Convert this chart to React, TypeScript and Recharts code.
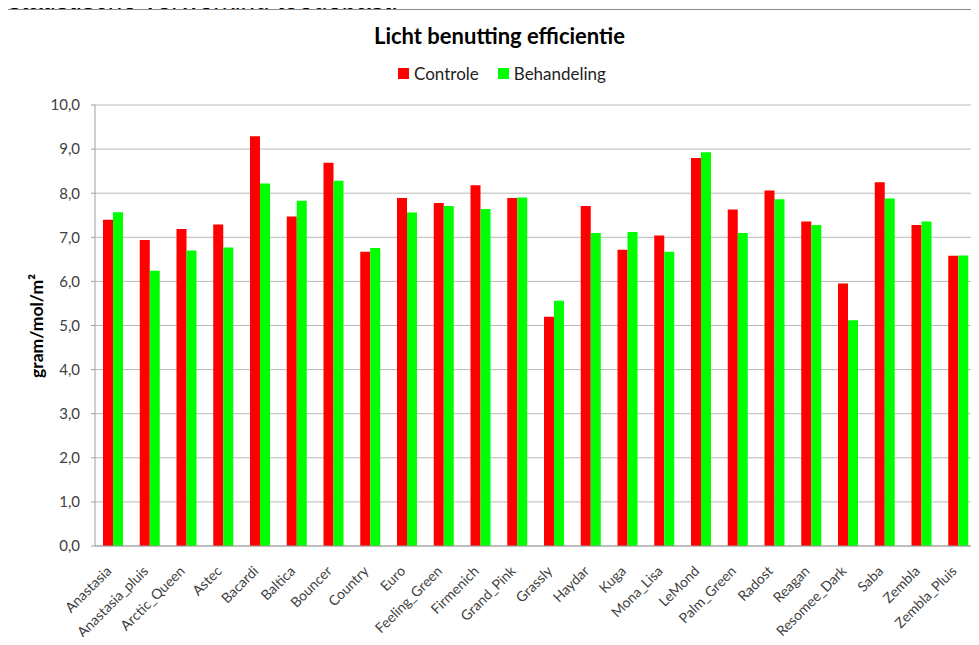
import { Bar, BarChart, CartesianGrid, XAxis, YAxis } from "recharts";

const categories = [
  "Anastasia", "Anastasia_pluis", "Arctic_Queen", "Astec", "Bacardi", "Baltica",
  "Bouncer", "Country", "Euro", "Feeling_Green", "Firmenich", "Grand_Pink",
  "Grassly", "Haydar", "Kuga", "Mona_Lisa", "LeMond", "Palm_Green",
  "Radost", "Reagan", "Resomee_Dark", "Saba", "Zembla", "Zembla_Pluis",
];
const controle = [
  7.4, 6.94, 7.19, 7.29, 9.29, 7.47, 8.69, 6.67, 7.89, 7.78, 8.18, 7.89,
  5.2, 7.71, 6.72, 7.04, 8.8, 7.63, 8.06, 7.36, 5.95, 8.25, 7.28, 6.58,
];
const behandeling = [
  7.57, 6.24, 6.7, 6.77, 8.22, 7.83, 8.28, 6.76, 7.56, 7.71, 7.64, 7.9,
  5.56, 7.1, 7.12, 6.67, 8.93, 7.1, 7.86, 7.28, 5.12, 7.88, 7.36, 6.59,
];
const yTicks = [0, 1, 2, 3, 4, 5, 6, 7, 8, 9, 10];

const data = categories.map((name, i) => ({
  name,
  controle: controle[i],
  behandeling: behandeling[i],
}));

const FONT = "Lato, 'Open Sans', sans-serif";
const RED = "#ff0000";
const GREEN = "#00ff00";

function XTick(props: any) {
  const { x, y, payload } = props;
  const ax = x - 1;
  const ay = y + 18;
  return (
    <text
      x={ax}
      y={ay}
      transform={`rotate(-45 ${ax} ${ay})`}
      textAnchor="end"
      fontSize={14}
      fontFamily={FONT}
      fill="#404040"
    >
      {payload.value}
    </text>
  );
}

function YLabel() {
  return (
    <text
      x={43}
      y={326}
      transform="rotate(-90 43 326)"
      textAnchor="middle"
      fontSize={17.5}
      fontWeight="bold"
      fontFamily={FONT}
      fill="#000"
    >
      gram/mol/m²
    </text>
  );
}

export default function App() {
  return (
    <div
      style={{
        position: "relative",
        width: 979,
        height: 645,
        margin: -8,
        overflow: "hidden",
        background: "#fff",
      }}
    >
      <div
        style={{
          position: "absolute",
          left: 8,
          top: -13,
          fontFamily: "'Liberation Sans', Arial, sans-serif",
          fontSize: 26,
          lineHeight: "26px",
          whiteSpace: "nowrap",
        }}
      >
        statistische verwerking toegepast.
      </div>
      <div
        style={{
          position: "absolute",
          left: 7,
          top: 9,
          width: 1000,
          height: 700,
          border: "1px solid #8a8a8a",
          background: "#fff",
        }}
      />
      <div
        style={{
          position: "absolute",
          top: 22,
          left: 0,
          width: 999,
          textAlign: "center",
          fontFamily: FONT,
          fontWeight: "bold",
          fontSize: 22,
          color: "#000",
        }}
      >
        Licht benutting efficientie
      </div>
      <div
        style={{
          position: "absolute",
          top: 63,
          left: 398,
          display: "flex",
          alignItems: "center",
          fontFamily: FONT,
          fontSize: 17,
          color: "#222",
        }}
      >
        <span style={{ width: 11, height: 11, background: RED, marginRight: 5 }} />
        <span style={{ marginRight: 19 }}>Controle</span>
        <span style={{ width: 11, height: 11, background: GREEN, marginRight: 5 }} />
        <span>Behandeling</span>
      </div>
      <div style={{ position: "absolute", top: 0, left: 0 }}>
        <BarChart
          width={979}
          height={645}
          data={data}
          margin={{ top: 105, right: 2, bottom: 9, left: 35 }}
          barSize={10}
          barGap={0}
        >
          <CartesianGrid vertical={false} stroke="#b8b8b8" />
          <XAxis
            dataKey="name"
            interval={0}
            height={90}
            tickLine={false}
            axisLine={{ stroke: "#a0a0a0" }}
            tick={<XTick />}
          />
          <YAxis
            width={60}
            domain={[0, 10]}
            ticks={yTicks}
            tickSize={4}
            tickMargin={11}
            tickLine={{ stroke: "#a0a0a0" }}
            axisLine={{ stroke: "#a0a0a0" }}
            tickFormatter={(v: number) => v.toFixed(1).replace(".", ",")}
            tick={{ fill: "#404040", fontSize: 15, fontFamily: FONT }}
            label={<YLabel />}
          />
          <Bar dataKey="controle" fill={RED} isAnimationActive={false} />
          <Bar dataKey="behandeling" fill={GREEN} isAnimationActive={false} />
        </BarChart>
      </div>
    </div>
  );
}
